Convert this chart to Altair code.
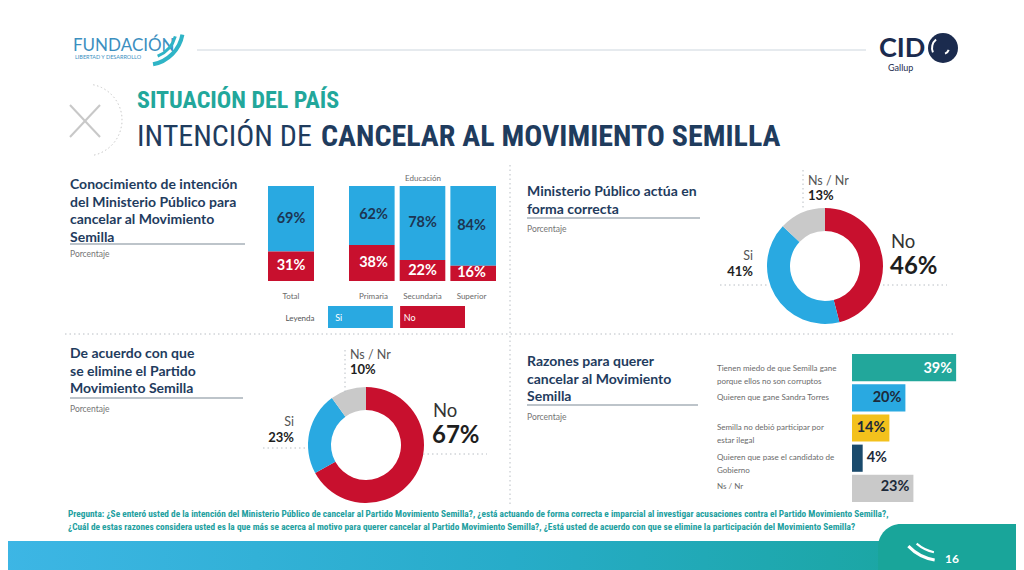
import altair as alt
import pandas as pd

# ---------------- data ----------------
EDU_GROUPS = ["Total", "Primaria", "Secundaria", "Superior"]
EDU_SI = [69, 62, 78, 84]
EDU_NO = [31, 38, 22, 16]
RESP = ["Si", "No"]

DONUT_CATS = ["No", "Si", "Ns / Nr"]
MP_VALUES = [46, 41, 13]        # Ministerio Público actúa en forma correcta
ELIM_VALUES = [67, 23, 10]      # De acuerdo con que se elimine el partido

RAZ_LABELS = [
    "Tienen miedo de que Semilla gane\nporque ellos no son corruptos",
    "Quieren que gane Sandra Torres",
    "Semilla no debió participar por\nestar ilegal",
    "Quieren que pase el candidato de\nGobierno",
    "Ns / Nr",
]
RAZ_VALUES = [39, 20, 14, 4, 23]

HEAD_1 = "SITUACIÓN DEL PAÍS"
HEAD_2A = "INTENCIÓN DE"
HEAD_2B = "CANCELAR AL MOVIMIENTO SEMILLA"
P1_TITLE = ["Conocimiento de intención", "del Ministerio Público para", "cancelar al Movimiento", "Semilla"]
P2_TITLE = ["Ministerio Público actúa en", "forma correcta"]
P3_TITLE = ["De acuerdo con que", "se elimine el Partido", "Movimiento Semilla"]
P4_TITLE = ["Razones para querer", "cancelar al Movimiento", "Semilla"]
SUBTITLE = "Porcentaje"
QUESTION = [
    "Pregunta: ¿Se enteró usted de la intención del Ministerio Público de cancelar al Partido Movimiento Semilla?, ¿está actuando de forma correcta e imparcial al investigar acusaciones contra el Partido Movimiento Semilla?,",
    "¿Cuál de estas razones considera usted es la que más se acerca al motivo para querer cancelar al Partido Movimiento Semilla?, ¿Está usted de acuerdo con que se elimine la participación del Movimiento Semilla?",
]
PAGE = "16"

# ---------------- styles ----------------
BODY = "Lato, Open Sans, sans-serif"
COND = "Roboto Condensed, Liberation Sans Narrow, DejaVu Sans Condensed, sans-serif"
NAVY = "#1f3c5e"
TEAL = "#22a79b"
BLUE = "#29a9e1"
RED = "#c8102e"
GRAY = "#c9c9c9"
YELLOW = "#f3c11c"
DNAVY = "#1a4a6c"
DARK = "#1e1e1e"
SUB = "#757575"
DOT = "#b9bec4"
RAZ_COLORS = [TEAL, BLUE, YELLOW, DNAVY, GRAY]

W, H = 1008, 562


def X(v):
    return v - 8


def Y(v):
    return v - 8


ONE = alt.Data(values=[{"k": 0}])


def text(t, x, y, size=12, color=DARK, weight="normal", font=BODY, align="left",
         baseline="alphabetic", lh=None):
    kw = dict(fontSize=size, color=color, fontWeight=weight, font=font, align=align, baseline=baseline)
    if lh:
        kw["lineHeight"] = lh
    return alt.Chart(ONE).mark_text(**kw).encode(
        x=alt.value(X(x)), y=alt.value(Y(y)), text=alt.value(t))


def rule(x1, y1, x2, y2, color=DOT, width=1.0, dash=None):
    kw = dict(color=color, strokeWidth=width)
    if dash:
        kw["strokeDash"] = dash
    return alt.Chart(ONE).mark_rule(**kw).encode(
        x=alt.value(X(x1)), y=alt.value(Y(y1)), x2=alt.value(X(x2)), y2=alt.value(Y(y2)))


def rect(x1, y1, x2, y2, color, **kw):
    return alt.Chart(ONE).mark_rect(color=color, **kw).encode(
        x=alt.value(X(x1)), y=alt.value(Y(y1)), x2=alt.value(X(x2)), y2=alt.value(Y(y2)))


def arc(cx, cy, r1, r2, t1, t2, color, **kw):
    return alt.Chart(ONE).mark_arc(radius=r2, radius2=r1, theta=t1, theta2=t2, color=color, **kw).encode(
        x=alt.value(X(cx)), y=alt.value(Y(cy)))


layers = []

# ---------------- header ----------------
layers.append(text("FUNDACIÓN", 73, 51, size=17, color="#3c8fbf", font=BODY))
layers.append(text("LIBERTAD Y DESARROLLO", 75, 59, size=5.5, color="#3c8fbf", font=BODY))
layers.append(arc(146, 28, 35, 39, 1.75, 2.95, "#2fb4c6"))
layers.append(arc(146, 28, 29, 32, 1.85, 2.75, "#2fb4c6"))
layers.append(rule(197, 50, 866, 50, color="#cdd6de", width=1))
layers.append(text("CID", 879, 57, size=27, color="#1b2b4e", weight="bold", font=BODY))
layers.append(arc(943, 48, 0, 15, 0, 6.2832, "#1b2b4e"))
layers.append(arc(943, 48, 10, 12, 4.3, 5.6, "white"))
layers.append(arc(943, 48, 5, 7, 1.9, 2.8, "white"))
layers.append(text("Gallup", 888, 71, size=9, color="#1b2b4e", font=BODY))

layers.append(rule(70, 105, 100, 137, color="#c8c8c8", width=2))
layers.append(rule(100, 105, 70, 137, color="#c8c8c8", width=2))
layers.append(alt.Chart(ONE).mark_arc(radius=36, radius2=36, theta=0.2, theta2=2.95, fillOpacity=0,
                                      stroke="#d0d0d0", strokeDash=[1, 3]).encode(
    x=alt.value(X(86)), y=alt.value(Y(120))))

layers.append(text(HEAD_1, 137, 108, size=24, color=TEAL, weight="bold", font=COND))
layers.append(text(HEAD_2A, 137, 146, size=30, color=NAVY, weight="normal", font=COND))
layers.append(text(HEAD_2B, 321, 146, size=30, color=NAVY, weight="bold", font=COND))

# ---------------- separators ----------------
layers.append(rule(65, 334, 955, 334, dash=[1.5, 3]))
layers.append(rule(510, 165, 510, 505, dash=[1.5, 3]))


# ---------------- panel titles ----------------
def panel_title(lines, x, y0, underline_y, sub_y, x2):
    out = [text(lines, x, y0, size=14, color=NAVY, weight="bold", font=BODY, lh=17.5),
           rule(x, underline_y, x2, underline_y, color="#a7b0b8", width=1.5),
           text(SUBTITLE, x, sub_y, size=8.5, color=SUB, font=BODY)]
    return out


layers += panel_title(P1_TITLE, 70, 189, 244, 257, 245)
layers += panel_title(P2_TITLE, 527, 196, 218, 232, 700)
layers += panel_title(P3_TITLE, 70, 358, 398, 412, 243)
layers += panel_title(P4_TITLE, 527, 366, 405, 420, 698)

# ---------------- panel 1: stacked bars ----------------
edu_rows = []
for g, s, n in zip(EDU_GROUPS, EDU_SI, EDU_NO):
    edu_rows.append({"group": g, "resp": "Si", "value": s})
    edu_rows.append({"group": g, "resp": "No", "value": n})
edu_df = pd.DataFrame(edu_rows)

yscale = alt.Scale(domain=[0, 100], range=[Y(281), Y(186)], nice=False)
cscale = alt.Scale(domain=RESP, range=[BLUE, RED])
lscale = alt.Scale(domain=RESP, range=["#1d3553", "white"])


def stack_panel(groups, xr, pad):
    xs = alt.Scale(domain=groups, range=[X(xr[0]), X(xr[1])], paddingInner=pad, paddingOuter=0)
    base = alt.Chart(edu_df).transform_filter(
        alt.FieldOneOfPredicate(field="group", oneOf=groups)
    ).transform_calculate(ord="datum.resp == 'No' ? 0 : 1")
    bars = base.mark_bar().encode(
        x=alt.X("group:N", scale=xs, axis=None, sort=groups),
        y=alt.Y("value:Q", stack="zero", scale=yscale, axis=None),
        color=alt.Color("resp:N", scale=cscale, legend=None),
        order=alt.Order("ord:Q"),
    )
    labels = base.transform_stack(
        stack="value", groupby=["group"], as_=["y0", "y1"], sort=[alt.SortField("ord", order="ascending")]
    ).transform_calculate(mid="(datum.y0 + datum.y1) / 2", lbl="datum.value + '%'").mark_text(
        font=BODY, fontWeight="bold", fontSize=14.5, baseline="middle"
    ).encode(
        x=alt.X("group:N", scale=xs, axis=None, sort=groups, bandPosition=0.5),
        y=alt.Y("mid:Q", scale=yscale, axis=None),
        text="lbl:N",
        color=alt.Color("resp:N", scale=lscale, legend=None),
    )
    cats = base.transform_filter("datum.resp == 'Si'").mark_text(
        font=BODY, fontSize=8, color="#6a6a6a"
    ).encode(
        x=alt.X("group:N", scale=xs, axis=None, sort=groups, bandPosition=0.5),
        y=alt.value(Y(297)),
        text="group:N",
    )
    return [bars, labels, cats]


layers += stack_panel(EDU_GROUPS[:1], (268, 314), 0)
layers += stack_panel(EDU_GROUPS[1:], (349, 496), 0.1)
layers.append(text("Educación", 423, 181, size=8, color="#6a6a6a", align="center"))

# legend
leg_df = pd.DataFrame({"resp": RESP})
leg_x = alt.Scale(domain=RESP, range=[X(328), X(465)], paddingInner=0.1, paddingOuter=0)
layers.append(alt.Chart(leg_df).mark_rect().encode(
    x=alt.X("resp:N", scale=leg_x, axis=None, sort=RESP),
    y=alt.value(Y(306)), y2=alt.value(Y(328)),
    color=alt.Color("resp:N", scale=cscale, legend=None),
))
layers.append(alt.Chart(leg_df).mark_text(font=BODY, fontSize=9, color="white", align="left", baseline="middle", dx=-27).encode(
    x=alt.X("resp:N", scale=leg_x, axis=None, sort=RESP, bandPosition=0.5),
    y=alt.value(Y(318)),
    text="resp:N",
))
layers.append(text("Leyenda", 300, 321, size=8, color="#555555", align="center"))


# ---------------- donuts ----------------
def donut(values, cx, cy):
    df = pd.DataFrame({"resp": DONUT_CATS, "value": values, "ord": list(range(len(values)))})
    return alt.Chart(df).mark_arc(innerRadius=35, outerRadius=58).encode(
        theta=alt.Theta("value:Q", stack=True),
        order=alt.Order("ord:Q"),
        color=alt.Color("resp:N", scale=alt.Scale(domain=DONUT_CATS, range=[RED, BLUE, GRAY]), legend=None),
        x=alt.value(X(cx)), y=alt.value(Y(cy)),
    )


def donut_labels(values, ns, no, si, vline, hl, hr):
    out = []
    out.append(rule(vline[0], vline[1], vline[0], vline[2], dash=[1.5, 3]))
    out.append(rule(hl[0], hl[2], hl[1], hl[2], dash=[1.5, 3]))
    out.append(rule(hr[0], hr[2], hr[1], hr[2], dash=[1.5, 3]))
    out.append(text(DONUT_CATS[2], ns[0], ns[1], size=12.5, color="#555555"))
    out.append(text(f"{values[2]}%", ns[0], ns[1] + 15, size=13, color=DARK, weight="bold"))
    out.append(text(DONUT_CATS[0], no[0], no[1], size=18.5, color="#333333"))
    out.append(text(f"{values[0]}%", no[0] - 1, no[1] + 26, size=24, color=DARK, weight="bold"))
    out.append(text(DONUT_CATS[1], si[0], si[1], size=12.5, color="#555555", align="right"))
    out.append(text(f"{values[1]}%", si[0], si[1] + 16, size=13, color=DARK, weight="bold", align="right"))
    return out


layers.append(donut(MP_VALUES, 825, 266))
layers += donut_labels(MP_VALUES, (808, 185), (891, 248), (753, 260), (803, 170, 210), (720, 767, 285), (883, 947, 285))
layers.append(donut(ELIM_VALUES, 366, 445))
layers += donut_labels(ELIM_VALUES, (350, 359), (433, 417), (294, 426), (345, 350, 392), (263, 308, 448), (423, 487, 454))

# ---------------- panel 4: horizontal bars ----------------
raz_df = pd.DataFrame({"reason": RAZ_LABELS, "value": RAZ_VALUES})
rys = alt.Scale(domain=RAZ_LABELS, range=[Y(354), Y(502)], paddingInner=0.1, paddingOuter=0)
rxs = alt.Scale(domain=[0, 100], range=[X(852), X(852 + 267)], nice=False)
rbase = alt.Chart(raz_df).transform_calculate(lbl="datum.value + '%'")
layers.append(rbase.mark_bar().encode(
    y=alt.Y("reason:N", scale=rys, axis=None, sort=RAZ_LABELS),
    x=alt.X("value:Q", scale=rxs, axis=None),
    color=alt.Color("reason:N", scale=alt.Scale(domain=RAZ_LABELS, range=RAZ_COLORS), legend=None),
))
layers.append(rbase.transform_filter("datum.value >= 10").mark_text(
    font=BODY, fontWeight="bold", fontSize=14.5, align="right", baseline="middle", dx=-4
).encode(
    y=alt.Y("reason:N", scale=rys, axis=None, sort=RAZ_LABELS, bandPosition=0.5),
    x=alt.X("value:Q", scale=rxs, axis=None),
    text="lbl:N",
    color=alt.condition("datum.value >= 30", alt.value("white"), alt.value("#1d2a3a")),
))
layers.append(rbase.transform_filter("datum.value < 10").mark_text(
    font=BODY, fontWeight="bold", fontSize=14.5, align="left", baseline="middle", dx=4
).encode(
    y=alt.Y("reason:N", scale=rys, axis=None, sort=RAZ_LABELS, bandPosition=0.5),
    x=alt.X("value:Q", scale=rxs, axis=None),
    text="lbl:N",
    color=alt.value("#1d2a3a"),
))
layers.append(rbase.mark_text(
    font=BODY, fontSize=8, color="#6a6a6a", align="left", baseline="middle", lineBreak="\n", lineHeight=13
).encode(
    y=alt.Y("reason:N", scale=rys, axis=None, sort=RAZ_LABELS, bandPosition=0.5),
    x=alt.value(X(717)),
    text="reason:N",
))

# ---------------- footer ----------------
layers.append(text(QUESTION, 68, 517, size=9.3, color="#22a0a0", weight="bold", font=COND, lh=13))
grad = alt.Gradient(
    gradient="linear",
    stops=[alt.GradientStop(offset=0, color="#3db6e5"),
           alt.GradientStop(offset=0.5, color="#27acc9"),
           alt.GradientStop(offset=1, color="#17a497")],
    x1=0, x2=1, y1=0, y2=0,
)
layers.append(rect(0, 541, 1024, 570, grad))
layers.append(rect(878, 524, 1024, 570, "#19a59a", cornerRadiusTopLeft=24))
layers.append(arc(942, 514, 45, 48, 3.3, 3.95, "white"))
layers.append(arc(942, 514, 38, 40, 3.35, 3.85, "white"))
layers.append(text(PAGE, 945, 563, size=12, color="white", weight="bold", font=BODY))

chart = alt.layer(*layers).resolve_scale(
    x="independent", y="independent", color="independent", theta="independent"
).properties(
    width=W, height=H, padding=0, autosize=alt.AutoSizeParams(type="none"), background="white"
).configure_view(stroke=None)

chart.save("out.html", embed_options={"renderer": "svg", "actions": False})
